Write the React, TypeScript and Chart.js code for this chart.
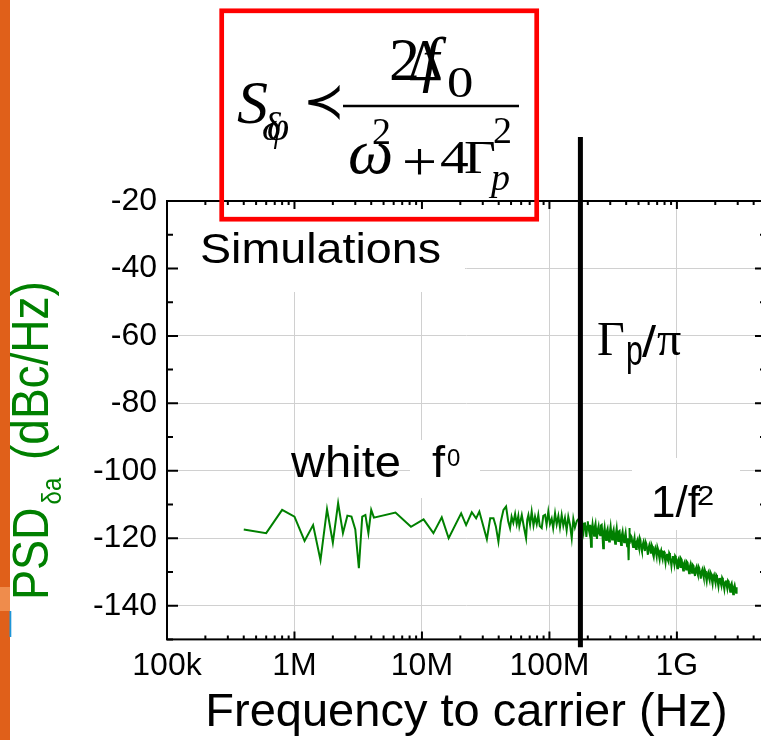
import React, { useEffect, useRef } from "react";
import { Chart, registerables } from "chart.js";

Chart.register(...registerables);

// ---------- data ----------
const freqLowMHz = [0.4, 0.6, 0.8, 1.0, 1.2, 1.4, 1.6, 1.8, 2.0, 2.2, 2.4, 2.6, 2.8, 3.0, 3.2, 3.4, 3.6, 3.8, 4.0, 4.2, 6.2, 8.2, 10.3, 12.3, 14.3, 16.2, 20.3, 22.2, 24.6, 26.6, 28.2, 32.3, 34.3];
const psdLow = [-117.4, -118.5, -111.6, -113.6, -120.8, -116.1, -126.5, -111.4, -121.3, -109.6, -118.5, -113.3, -113.6, -117.4, -128.9, -113.6, -113.1, -118.5, -111.6, -113.9, -112.4, -116.6, -114.4, -118.5, -113.8, -120.0, -112.6, -116.1, -112.3, -114.1, -112.1, -120.3, -114.1];

const freqMidMHz = [36.4, 38.0, 39.8, 41.5, 43.6, 45.7, 47.5, 49.1, 50.5, 52.1, 53.8, 55.4, 57.0, 58.1, 60.7, 63.0, 65.6, 67.0, 68.4, 70.5, 72.6, 75.0, 77.1, 79.5, 81.8, 84.0, 87.0, 89.5, 92.4, 95.0, 98.0, 101.0, 104.2, 107.0, 110.7, 114.0, 117.5, 121.0, 124.8, 128.5, 132.4, 136.5, 140.6, 145.0, 149.6, 154.0, 158.5, 164.0];
const psdMid = [-114.1, -116.5, -121.0, -115.2, -111.6, -110.6, -115.0, -117.0, -113.6, -115.4, -112.8, -115.8, -113.4, -116.4, -113.1, -116.6, -120.0, -114.5, -113.1, -116.0, -112.1, -116.2, -113.6, -115.8, -113.1, -116.4, -117.0, -113.4, -113.1, -116.0, -112.1, -115.8, -114.2, -117.0, -112.6, -115.9, -113.4, -116.8, -113.1, -116.3, -114.0, -117.6, -113.6, -116.0, -120.0, -114.3, -116.8, -114.9];

const freqKneeMHz = [170, 172.5, 175, 177.5, 180, 182.5, 185, 187.5, 190, 192.5, 195, 197.5, 200, 203, 206, 209, 212, 215, 218, 221, 224, 227, 230, 233, 236, 239.5, 243, 246.5, 250, 253.5, 257, 260.5, 264, 267.5, 271, 274.5, 278, 282, 286, 290, 294, 298, 302, 306, 310, 314.5, 319, 323.5, 328, 332.5, 337, 341.5, 346, 350.5, 355, 360, 365, 370, 375, 380, 385, 390.5, 396, 401.5, 407, 412.5, 418, 421, 424, 426.5, 429, 435, 441, 447, 453, 459];
const psdKnee = [-114.2, -116.8, -119.0, -116.0, -114.6, -116.9, -118.2, -115.7, -115.3, -117.4, -119.6, -116.5, -115.0, -117.2, -118.4, -116.0, -122.5, -117.9, -115.8, -117.6, -119.3, -116.6, -115.6, -118.0, -120.2, -117.5, -116.4, -118.6, -119.1, -116.2, -116.0, -118.8, -123.0, -118.4, -116.8, -118.9, -120.5, -118.0, -117.2, -119.5, -121.0, -118.2, -116.5, -118.7, -120.4, -118.3, -117.4, -119.9, -121.6, -118.6, -117.0, -119.4, -120.8, -118.0, -117.8, -120.3, -122.0, -119.1, -118.0, -120.0, -121.2, -119.5, -118.3, -120.6, -122.4, -120.0, -126.5, -121.4, -117.0, -119.8, -121.0, -119.2, -119.6, -121.4, -122.6, -120.9];

const freqHighMHz = [465, 471, 478, 484, 491, 497, 504, 511, 518, 525, 532, 539, 546, 553, 561, 568, 576, 584, 592, 600, 608, 616, 624, 632, 641, 649, 658, 667, 676, 685, 694, 703, 713, 722, 732, 742, 752, 762, 772, 782, 793, 803, 814, 825, 836, 847, 859, 870, 882, 894, 906, 918, 930, 942, 955, 968, 981, 994, 1007, 1020, 1034, 1048, 1062, 1076, 1091, 1105, 1120, 1135, 1150, 1165, 1181, 1197, 1213, 1229, 1246, 1263, 1280, 1297, 1314, 1332, 1350, 1368, 1386, 1404, 1423, 1442, 1461, 1480, 1500, 1520, 1540, 1561, 1582, 1603, 1624, 1646, 1668, 1690, 1713, 1736, 1759, 1782, 1806, 1830, 1855, 1880, 1905, 1930, 1956, 1982, 2009, 2036, 2063, 2090, 2118, 2146, 2175, 2204, 2234, 2264, 2294, 2325, 2356, 2387, 2419, 2451, 2484, 2517, 2551, 2585, 2620, 2655, 2690, 2726, 2763, 2800, 2837, 2875, 2913, 2930, 2950];
const psdHigh = [-119.8, -122.4, -123.2, -121.0, -120.4, -121.9, -122.9, -119.9, -120.6, -123.1, -124.0, -122.0, -121.2, -122.6, -123.8, -121.0, -121.6, -123.3, -124.9, -122.9, -122.0, -123.0, -124.6, -121.8, -122.4, -124.7, -125.6, -123.6, -122.9, -124.1, -125.4, -122.6, -123.4, -125.0, -126.3, -124.3, -123.6, -125.3, -126.2, -124.1, -124.0, -125.8, -127.3, -125.2, -124.6, -126.4, -127.0, -124.4, -124.9, -126.4, -128.2, -126.3, -125.3, -126.6, -127.8, -125.2, -125.6, -127.6, -128.9, -126.5, -126.0, -127.4, -128.5, -126.0, -126.4, -128.3, -129.6, -127.5, -127.0, -128.4, -129.3, -126.9, -127.2, -129.0, -130.4, -128.4, -127.6, -129.1, -130.2, -127.9, -128.2, -130.0, -131.2, -129.1, -128.5, -130.2, -130.9, -128.4, -128.9, -130.6, -132.0, -130.0, -129.3, -130.7, -131.7, -129.1, -129.7, -131.5, -132.8, -130.8, -130.2, -131.6, -132.5, -130.0, -130.5, -132.3, -133.6, -131.5, -130.9, -132.2, -133.3, -130.9, -131.3, -133.0, -134.3, -132.2, -131.8, -133.2, -134.1, -131.7, -132.2, -134.0, -135.2, -133.1, -132.5, -133.8, -134.9, -132.6, -133.0, -134.7, -135.9, -133.8, -133.3, -134.8, -136.6, -134.6, -133.9, -135.2, -136.2, -134.5, -134.8];

const xTickValues = [1e5, 1e6, 1e7, 1e8, 1e9];
const xTickLabels = ["100k", "1M", "10M", "100M", "1G"];
const yTickValues = [-140, -120, -100, -80, -60, -40, -20];
const xMin = 1e5;
const xMax = 5e9;
const yMin = -150;
const yMax = -20;

// Gamma_p / pi marker
const gammaFreqHz = 1.75e8;
const gammaLineTop = -1;
const gammaLineBottom = -152.3;

// ---------- layout ----------
const CANVAS_W = 780;
const CANVAS_H = 740;
const PLOT_LEFT = 167;
const PLOT_RIGHT = 766;
const PLOT_TOP = 201;
const PLOT_BOTTOM = 639.4;

const SANS = '"Liberation Sans", Arial, sans-serif';
const SERIF = '"Liberation Serif", "Times New Roman", serif';
const GREEN = "#008000";

function txt(ctx: CanvasRenderingContext2D, s: string, x: number, y: number, font: string, sx = 1, sy = 1, color = "#000") {
  ctx.save();
  ctx.translate(x, y);
  ctx.scale(sx, sy);
  ctx.font = font;
  ctx.fillStyle = color;
  ctx.textAlign = "left";
  ctx.textBaseline = "alphabetic";
  ctx.fillText(s, 0, 0);
  ctx.restore();
}

const decorPlugin = {
  id: "decor",
  beforeDatasetsDraw(chart: any) {
    const ctx: CanvasRenderingContext2D = chart.ctx;
    ctx.save();
    ctx.fillStyle = "#ffffff";
    ctx.fillRect(169, 203, 296, 89); // behind "Simulations"
    ctx.fillRect(410, 440, 70, 58); // behind f^0
    ctx.fillRect(632, 458, 108, 72); // behind 1/f^2
    ctx.restore();
  },
  afterDraw(chart: any) {
    const ctx: CanvasRenderingContext2D = chart.ctx;
    const { left, right, top, bottom } = chart.chartArea;
    const xs = chart.scales.x;
    const ys = chart.scales.y;

    ctx.save();
    // frame
    ctx.strokeStyle = "#000";
    ctx.lineWidth = 2;
    ctx.strokeRect(left, top, right - left, bottom - top);

    // x ticks (inward, bottom and top)
    ctx.beginPath();
    for (let n = 5; n <= 9; n++) {
      for (let k = 1; k <= 9; k++) {
        const v = k * Math.pow(10, n);
        if (v > xMax) break;
        const px = xs.getPixelForValue(v);
        const len = k === 1 ? 8 : 4;
        ctx.moveTo(px, bottom);
        ctx.lineTo(px, bottom - len);
        ctx.moveTo(px, top);
        ctx.lineTo(px, top + len);
      }
    }
    // y ticks (inward, left and right)
    for (let v = yMin; v <= yMax; v += 10) {
      const py = ys.getPixelForValue(v);
      const len = v % 20 === 0 ? 11 : 6;
      ctx.moveTo(left, py);
      ctx.lineTo(left + len, py);
      ctx.moveTo(right, py);
      ctx.lineTo(right - len, py);
    }
    ctx.stroke();

    // annotations
    txt(ctx, "Simulations", 200, 263, `42px ${SANS}`, 1.11);
    txt(ctx, "white", 291, 477, `44px ${SANS}`, 1.07);
    txt(ctx, "f", 432, 477, `44px ${SANS}`, 1.07);
    txt(ctx, "0", 447, 466, `24px ${SANS}`);

    txt(ctx, "\u0393", 597, 355, `48px ${SERIF}`);
    txt(ctx, "p", 626, 365, `42px ${SANS}`, 0.72);
    txt(ctx, "/", 642, 357, `44px ${SANS}`, 1.15);
    txt(ctx, "\u03C0", 657, 355, `48px ${SERIF}`);

    txt(ctx, "1/f", 651, 517, `44px ${SANS}`);
    txt(ctx, "2", 697, 505, `28px ${SANS}`, 1.1);

    // y axis title
    ctx.save();
    ctx.translate(48, 600);
    ctx.rotate(-Math.PI / 2);
    ctx.scale(1, 1.12);
    ctx.fillStyle = GREEN;
    ctx.textBaseline = "alphabetic";
    ctx.textAlign = "left";
    ctx.font = `45px ${SANS}`;
    ctx.fillText("PSD", 0, 0);
    const wPSD = ctx.measureText("PSD").width;
    ctx.font = `24px ${SANS}`;
    ctx.fillText("\u03B4a", wPSD + 3, 12);
    ctx.font = `46px ${SANS}`;
    ctx.fillText("(dBc/Hz)", 140, 0);
    ctx.restore();

    // formula box
    ctx.strokeStyle = "#ff0000";
    ctx.lineWidth = 4.7;
    ctx.strokeRect(221.7, 10.8, 315, 208.4);

    txt(ctx, "S", 237, 123, `italic 62px ${SERIF}`);
    txt(ctx, "\u03B4", 262, 140, `italic 40px ${SERIF}`);
    txt(ctx, "\u03C6", 267, 140, `italic 40px ${SERIF}`);
    txt(ctx, "\u227A", 303, 118, `50px "DejaVu Sans"`);
    ctx.strokeStyle = "#000";
    ctx.lineWidth = 2.5;
    ctx.beginPath();
    ctx.moveTo(343, 106);
    ctx.lineTo(519, 106);
    ctx.stroke();
    txt(ctx, "2", 389, 80, `62px ${SERIF}`);
    txt(ctx, "\u0394", 408, 80, `60px ${SERIF}`, 0.9);
    txt(ctx, "f", 422, 80, `italic 62px ${SERIF}`);
    txt(ctx, "0", 447, 97, `44px ${SERIF}`, 1.2);
    txt(ctx, "\u03C9", 348, 173, `italic 64px ${SERIF}`);
    txt(ctx, "2", 372, 144, `38px ${SERIF}`);
    txt(ctx, "+", 402, 180, `54px ${SERIF}`, 1.15);
    txt(ctx, "4", 440, 173, `46px ${SERIF}`, 1.25);
    txt(ctx, "\u0393", 464, 173, `46px ${SERIF}`, 1.2);
    txt(ctx, "2", 493, 143, `38px ${SERIF}`);
    txt(ctx, "p", 491, 190, `italic 38px ${SERIF}`);

    // left orange strip
    ctx.fillStyle = "#e0601a";
    ctx.fillRect(0, 0, 10, CANVAS_H);
    ctx.fillStyle = "#ef8c4c";
    ctx.fillRect(0, 587, 10, 24);
    ctx.fillStyle = "#1e96d8";
    ctx.fillRect(9.5, 611, 1.8, 26);
    ctx.restore();
  },
};

export default function App() {
  const canvasRef = useRef<HTMLCanvasElement | null>(null);

  useEffect(() => {
    const canvas = canvasRef.current;
    if (!canvas) return;

    const psdPoints = [
      ...freqLowMHz.map((f, i) => ({ x: f * 1e6, y: psdLow[i] })),
      ...freqMidMHz.map((f, i) => ({ x: f * 1e6, y: psdMid[i] })),
      ...freqKneeMHz.map((f, i) => ({ x: f * 1e6, y: psdKnee[i] })),
      ...freqHighMHz.map((f, i) => ({ x: f * 1e6, y: psdHigh[i] })),
    ];

    const chart = new Chart(canvas, {
      type: "line",
      data: {
        datasets: [
          {
            data: [
              { x: gammaFreqHz, y: gammaLineTop },
              { x: gammaFreqHz, y: gammaLineBottom },
            ],
            borderColor: "#000",
            borderWidth: 5,
            pointRadius: 0,
            clip: false as any,
            order: 0,
          },
          {
            data: psdPoints,
            borderColor: GREEN,
            borderWidth: 2,
            pointRadius: 0,
            tension: 0,
            order: 1,
          },
        ],
      },
      options: {
        responsive: false,
        animation: false,
        devicePixelRatio: 1,
        layout: { padding: { left: 0, top: PLOT_TOP, right: CANVAS_W - PLOT_RIGHT, bottom: 0 } },
        plugins: { legend: { display: false }, tooltip: { enabled: false }, title: { display: false } },
        scales: {
          x: {
            type: "logarithmic",
            min: xMin,
            max: xMax,
            afterBuildTicks: (s: any) => {
              s.ticks = xTickValues.map((v) => ({ value: v }));
            },
            afterFit: (s: any) => {
              s.height = CANVAS_H - PLOT_BOTTOM;
            },
            grid: { color: "#d0d0d0", lineWidth: 1, drawTicks: false },
            border: { display: false },
            ticks: {
              autoSkip: false,
              maxRotation: 0,
              minRotation: 0,
              padding: 8,
              color: "#000",
              font: { family: SANS, size: 32 },
              callback: (_v: any, i: number) => xTickLabels[i],
            },
            title: {
              display: true,
              text: "Frequency to carrier (Hz)",
              color: "#000",
              font: { family: SANS, size: 47, lineHeight: 1 },
              padding: { top: 0, bottom: 3.5 },
            },
          },
          y: {
            type: "linear",
            min: yMin,
            max: yMax,
            afterBuildTicks: (s: any) => {
              s.ticks = yTickValues.map((v) => ({ value: v }));
            },
            afterFit: (s: any) => {
              s.width = PLOT_LEFT;
            },
            grid: { color: "#d0d0d0", lineWidth: 1, drawTicks: false },
            border: { display: false },
            ticks: {
              padding: 10,
              color: "#000",
              font: { family: SANS, size: 32 },
              callback: (v: any) => String(v),
            },
          },
        },
      } as any,
      plugins: [decorPlugin],
    });

    return () => chart.destroy();
  }, []);

  return (
    <div style={{ position: "absolute", left: 0, top: 0, width: 761, height: 740, overflow: "hidden", background: "#fff" }}>
      <canvas ref={canvasRef} width={CANVAS_W} height={CANVAS_H} style={{ width: CANVAS_W, height: CANVAS_H, display: "block" }} />
    </div>
  );
}
